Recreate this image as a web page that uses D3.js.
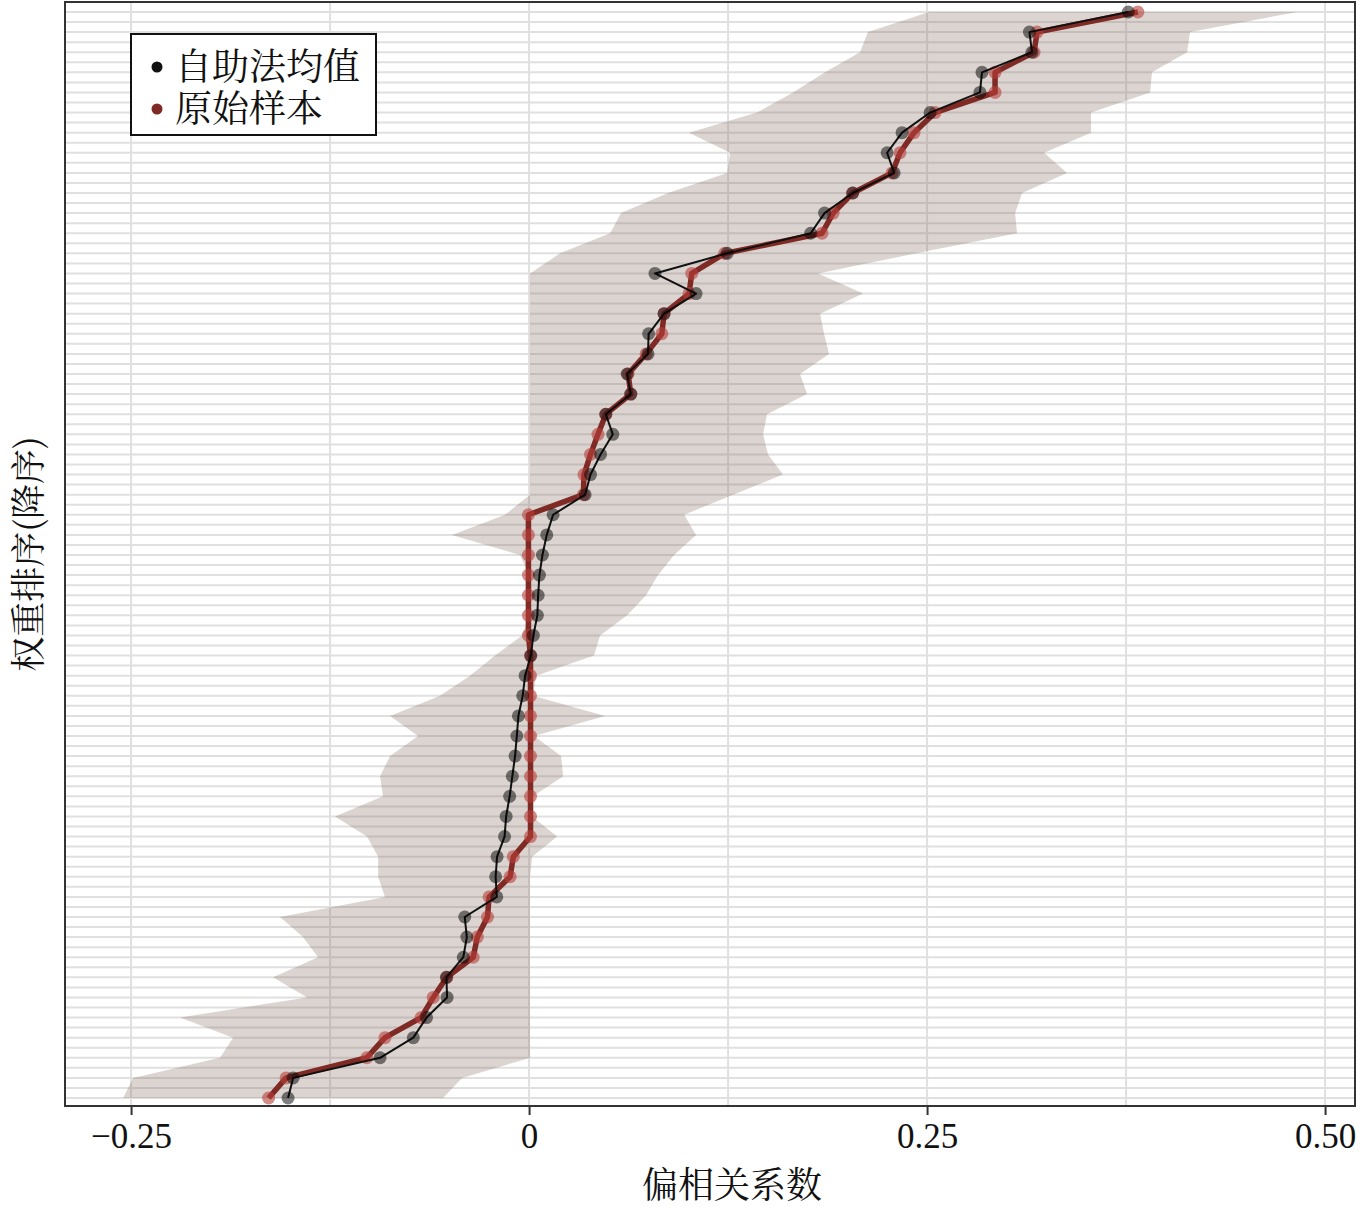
<!DOCTYPE html>
<html><head><meta charset="utf-8">
<script src="https://cdn.jsdelivr.net/npm/d3@7"></script>
<style>body{margin:0;background:#fff}</style>
</head><body>
<svg id="c" width="1364" height="1207"></svg>
<script>
// rank 1 (top) .. 55 (bottom)
const ranks = d3.range(1, 56);
const bootMean = [0.3764,0.3143,0.3159,0.2845,0.2832,0.2519,0.2343,0.2249,0.2293,0.2033,
  0.1856,0.1769,0.1244,0.0791,0.1049,0.0848,0.0751,0.0747,0.0616,0.0639,
  0.0482,0.0526,0.0449,0.0386,0.0352,0.0151,0.0111,0.0084,0.0065,0.0057,
  0.0052,0.0027,0.0011,-0.0025,-0.0040,-0.0067,-0.0077,-0.0088,-0.0105,-0.0122,
  -0.0144,-0.0154,-0.0201,-0.0210,-0.0203,-0.0404,-0.0391,-0.0413,-0.0519,-0.0515,
  -0.0644,-0.0727,-0.0936,-0.1482,-0.1514];
const original = [0.3824,0.3191,0.3172,0.2927,0.2927,0.2550,0.2418,0.2330,0.2280,0.2033,
  0.1910,0.1840,0.1229,0.1022,0.1005,0.0848,0.0834,0.0735,0.0622,0.0639,
  0.0482,0.0433,0.0386,0.0345,0.0341,-0.0004,-0.0004,-0.0004,-0.0004,-0.0004,
  -0.0004,-0.0004,0.0009,0.0009,0.0009,0.0009,0.0009,0.0009,0.0009,0.0009,
  0.0009,0.0009,-0.0099,-0.0119,-0.0251,-0.0261,-0.0325,-0.0351,-0.0517,-0.0602,
  -0.0678,-0.0905,-0.1019,-0.1526,-0.1636];
const ciUpper = [0.4824,0.4152,0.4133,0.3913,0.3901,0.3530,0.3530,0.3235,0.3379,0.3097,
  0.3053,0.3065,0.2431,0.1815,0.2098,0.1828,0.1853,0.1884,0.1702,0.1746,
  0.1495,0.1470,0.1501,0.1595,0.1281,0.0974,0.1049,0.0911,0.0810,0.0735,
  0.0616,0.0446,0.0408,0.0044,0.0025,0.0477,0.0031,0.0201,0.0214,0.0025,
  0.0019,0.0176,0.0019,0.0006,0.0006,0.0006,0.0006,0.0006,0.0006,0.0006,
  0.0006,0.0006,0.0006,-0.0421,-0.0540];
const ciLower = [0.2513,0.2129,0.2079,0.1859,0.1658,0.1432,0.1005,0.1263,0.1244,0.0873,
  0.0578,0.0509,0.0195,0.0006,0.0006,0.0006,0.0006,0.0006,0.0006,0.0006,
  0.0006,0.0006,0.0006,0.0006,0.0006,-0.0151,-0.0484,-0.0057,0.0000,0.0000,
  0.0000,-0.0044,-0.0214,-0.0371,-0.0559,-0.0873,-0.0697,-0.0873,-0.0936,-0.0917,
  -0.1219,-0.1018,-0.0948,-0.0948,-0.0905,-0.1564,-0.1420,-0.1325,-0.1608,-0.1394,
  -0.2192,-0.1859,-0.1941,-0.2487,-0.2550];
const xMajorTicks = [-0.25, 0, 0.25, 0.5];
const xTickLabels = ["\u22120.25", "0", "0.25", "0.50"];
const xMinorTicks = [-0.125, 0.125, 0.375];
const legendLabels = ["自助法均值", "原始样本"];
const xTitle = "偏相关系数";
const yTitle = "权重排序(降序)";

const svg = d3.select("#c");
const P = {l: 65, r: 1355, t: 2, b: 1106};
const x = d3.scaleLinear().domain([-0.2915, 0.5188]).range([P.l, P.r]);
const y = d3.scaleLinear().domain([1, 55]).range([12, 1098]);
const cjk = "'Noto Serif CJK SC','Noto Sans CJK SC',serif";

svg.append("defs").append("clipPath").attr("id","clip")
  .append("rect").attr("x",P.l).attr("y",P.t).attr("width",P.r-P.l).attr("height",P.b-P.t);

const plot = svg.append("g").attr("clip-path","url(#clip)");
plot.append("rect").attr("x",P.l).attr("y",P.t).attr("width",P.r-P.l).attr("height",P.b-P.t).attr("fill","#fff");

// grid
const hGrid = d3.range(0.5, 55.6, 0.5);
plot.selectAll(".hg").data(hGrid).enter().append("line")
  .attr("x1",P.l).attr("x2",P.r).attr("y1",d=>y(d)).attr("y2",d=>y(d))
  .attr("stroke","#e0e0e0").attr("stroke-width",2);
plot.selectAll(".vg").data(xMajorTicks.concat(xMinorTicks)).enter().append("line")
  .attr("y1",P.t).attr("y2",P.b).attr("x1",d=>x(d)).attr("x2",d=>x(d))
  .attr("stroke","#e0e0e0").attr("stroke-width",2);

// ribbon
const band = d3.area().curve(d3.curveLinear)
  .y((d,i)=>y(ranks[i])).x0((d,i)=>x(ciLower[i])).x1((d,i)=>x(ciUpper[i]));
plot.append("path").datum(ranks).attr("d", band)
  .attr("fill","#7a5f55").attr("fill-opacity",0.27);

// original sample (red)
const line = arr => d3.line().x((d,i)=>x(arr[i])).y((d,i)=>y(ranks[i]));
plot.append("path").datum(ranks).attr("d", line(original))
  .attr("fill","none").attr("stroke","#7f2a25").attr("stroke-width",5.5).attr("stroke-linejoin","round");
plot.selectAll(".rp").data(ranks).enter().append("circle")
  .attr("cx",(d,i)=>x(original[i])).attr("cy",d=>y(d)).attr("r",6.5)
  .attr("fill","#b8403a").attr("fill-opacity",0.6);

// bootstrap mean (black)
plot.append("path").datum(ranks).attr("d", line(bootMean))
  .attr("fill","none").attr("stroke","#111").attr("stroke-width",2).attr("stroke-linejoin","round");
plot.selectAll(".bp").data(ranks).enter().append("circle")
  .attr("cx",(d,i)=>x(bootMean[i])).attr("cy",d=>y(d)).attr("r",6.5)
  .attr("fill","#000").attr("fill-opacity",0.5);

// panel border
svg.append("rect").attr("x",P.l).attr("y",P.t).attr("width",P.r-P.l).attr("height",P.b-P.t)
  .attr("fill","none").attr("stroke","#333").attr("stroke-width",2);

// x axis
const xAxis = d3.axisBottom(x).tickValues(xMajorTicks)
  .tickFormat((d,i)=>xTickLabels[i]).tickSize(9).tickPadding(8);
const gx = svg.append("g").attr("transform",`translate(0,${P.b})`).call(xAxis);
gx.select(".domain").remove();
gx.selectAll(".tick line").attr("stroke","#333").attr("stroke-width",2);
gx.selectAll(".tick text").attr("font-family","'Liberation Serif','Times New Roman',serif")
  .attr("font-size",35).attr("fill","#111");

// titles
svg.append("text").attr("x",732).attr("y",1198).attr("text-anchor","middle")
  .attr("font-family",cjk).attr("font-size",36).attr("fill","#111").text(xTitle);
svg.append("text").attr("transform",`translate(41,${(P.t+P.b)/2}) rotate(-90)`)
  .attr("text-anchor","middle").attr("font-family",cjk).attr("font-size",35).attr("fill","#111").text(yTitle);

// legend
const lg = svg.append("g");
lg.append("rect").attr("x",131).attr("y",34).attr("width",245).attr("height",101)
  .attr("fill","#fff").attr("stroke","#111").attr("stroke-width",2);
const legColors = ["#111","#7f2a25"];
legendLabels.forEach((t,i)=>{
  const cy = 67 + i*42;
  lg.append("circle").attr("cx",157).attr("cy",cy).attr("r",5.5).attr("fill",legColors[i]);
  lg.append("text").attr("x",175).attr("y",cy+13).attr("font-family",cjk)
    .attr("font-size",37).attr("fill","#111").text(t);
});
</script>
</body></html>
